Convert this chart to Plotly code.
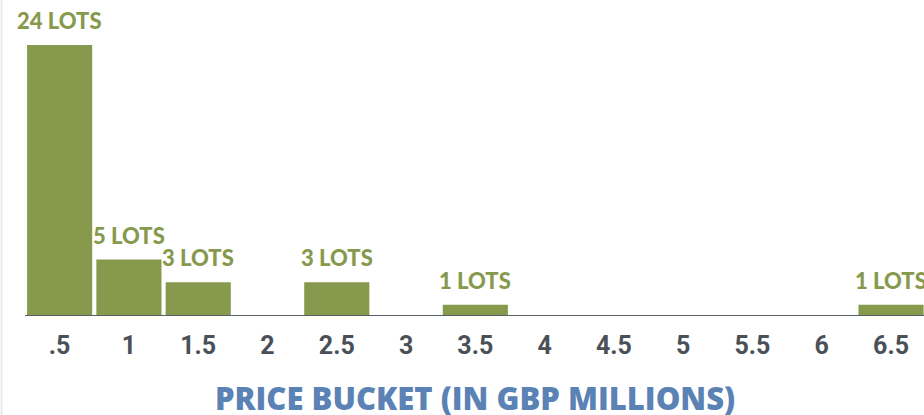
import plotly.graph_objects as go

categories = [".5", "1", "1.5", "2", "2.5", "3", "3.5", "4", "4.5", "5", "5.5", "6", "6.5"]
lots = [24, 5, 3, 0, 3, 0, 1, 0, 0, 0, 0, 0, 1]
labels = [f"{v} LOTS" if v > 0 else "" for v in lots]

GREEN = "#86994d"
fig = go.Figure()
fig.add_trace(go.Bar(x=list(range(len(categories))), y=lots,
                     marker=dict(color=GREEN, line=dict(width=0)), hoverinfo="skip"))

for i, (v, t) in enumerate(zip(lots, labels)):
    if t:
        fig.add_annotation(x=i, y=v, text=t, showarrow=False, yanchor="bottom",
                           yshift=9, font=dict(family="Lato", size=22, color=GREEN, weight=900))

fig.add_annotation(xref="paper", yref="paper", x=0.501, y=0, yanchor="middle",
                   yshift=-82, text="PRICE BUCKET (IN GBP MILLIONS)", showarrow=False,
                   font=dict(family="Open Sans", size=31, color="#5b82b5", weight=800))

fig.add_shape(type="line", xref="paper", yref="paper", x0=-0.026, x1=-0.026, y0=-1, y1=2,
              line=dict(color="#e6eaf0", width=2))

fig.update_layout(
    width=924, height=415,
    margin=dict(l=25, r=0, t=45, b=99),
    paper_bgcolor="white", plot_bgcolor="white",
    bargap=0.06, showlegend=False,
    xaxis=dict(range=[-0.5, 12.476], showgrid=False, zeroline=False,
               showline=False, ticks="", ticklabelstandoff=12,
               tickmode="array", tickvals=list(range(len(categories))), ticktext=categories,
               tickfont=dict(family="Roboto", size=25, color="#4a5058", weight="bold")),
    yaxis=dict(range=[0, 24], visible=False, showgrid=False, zeroline=False),
)
fig.add_shape(type="line", xref="paper", yref="y", x0=0, x1=1, y0=0, y1=0,
              line=dict(color="#5a6068", width=2))

fig.write_html("out.html", config={"displayModeBar": False},
               post_script="document.body.style.margin='0';document.body.style.overflow='hidden';")
